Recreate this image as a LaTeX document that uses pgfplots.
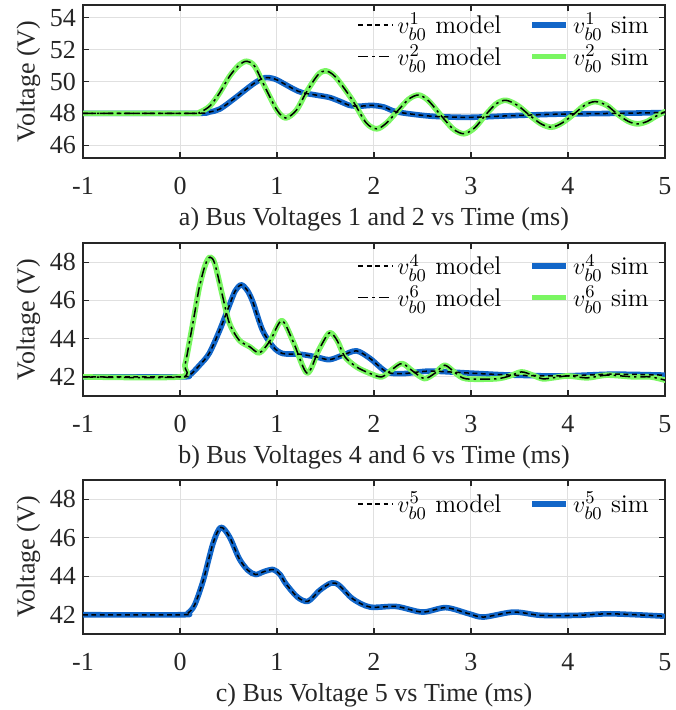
\documentclass[border=0pt]{standalone}
\usepackage{fontspec}
\usepackage{pgfplots}
\usepackage{pgfplotstable}
\pgfplotsset{compat=1.18}
\newfontfamily\tnr{Liberation Serif}
\newcommand\tf{\tnr\fontsize{13}{14}\selectfont}
\definecolor{simblue}{RGB}{18,102,200}
\definecolor{simgreen}{RGB}{122,246,98}
\definecolor{axgray}{RGB}{38,38,38}

\pgfplotstableread{
t v
-1 48
0.15 48
0.3 48.08
0.41 48.27
0.55 48.88
0.68 49.5
0.78 49.95
0.88 50.24
0.98 50.15
1.09 49.8
1.18 49.5
1.26 49.3
1.4 49.15
1.54 49.0
1.65 48.75
1.75 48.5
1.85 48.45
1.98 48.5
2.1 48.4
2.2 48.15
2.33 48.0
2.6 47.82
2.97 47.75
3.4 47.85
3.9 47.95
4.5 48.0
5 48.05
}\vone

\pgfplotstableread{
t v
-1 48
0.1 48
0.2 48.06
0.31 48.47
0.41 49.3
0.51 50.32
0.61 51.04
0.69 51.27
0.77 50.95
0.88 49.6
1.0 48.2
1.09 47.71
1.2 48.2
1.3 49.3
1.42 50.4
1.50 50.67
1.6 50.3
1.77 48.9
1.92 47.4
2.03 47.03
2.13 47.4
2.25 48.2
2.36 48.9
2.46 49.15
2.56 48.8
2.7 47.8
2.82 47.0
2.93 46.72
3.04 47.1
3.15 47.9
3.26 48.6
3.36 48.82
3.48 48.5
3.6 47.9
3.72 47.35
3.83 47.13
3.94 47.4
4.06 47.95
4.17 48.5
4.28 48.74
4.4 48.5
4.5 48.0
4.62 47.5
4.72 47.34
4.82 47.5
4.9 47.8
5 48.1
}\vtwo

\pgfplotstableread{
t v
-1 42
0.0 42
0.1 42.1
0.2 42.6
0.3 43.22
0.41 44.45
0.51 45.76
0.57 46.5
0.63 46.81
0.69 46.55
0.75 45.93
0.85 44.45
0.96 43.57
1.06 43.22
1.23 43.19
1.4 43.05
1.54 42.9
1.68 43.14
1.82 43.36
1.96 42.96
2.13 42.26
2.3 42.17
2.57 42.3
2.98 42.2
3.43 42.09
3.94 42.05
4.46 42.14
5 42.09
}\vfour

\pgfplotstableread{
t v
-1 42
0.0 42
0.05 42.6
0.1 43.9
0.15 45.3
0.2 46.7
0.26 47.85
0.31 48.26
0.36 47.9
0.44 46.2
0.51 44.8
0.61 43.92
0.72 43.57
0.82 43.26
0.93 43.9
1.05 44.94
1.17 43.8
1.31 42.2
1.43 43.4
1.54 44.3
1.62 43.9
1.7 43.05
1.82 42.52
1.95 42.2
2.08 42.0
2.19 42.4
2.29 42.7
2.4 42.3
2.52 41.91
2.63 42.2
2.73 42.61
2.84 42.2
2.95 41.9
3.26 41.9
3.4 42.05
3.52 42.26
3.63 42.1
3.74 41.9
3.87 41.97
4.0 42.05
4.2 41.95
4.4 42.09
4.68 42.0
4.85 42.0
5 41.83
}\vsix

\pgfplotstableread{
t v
-1 42
0.02 42
0.08 42.08
0.15 42.5
0.24 43.79
0.34 45.7
0.42 46.54
0.51 46.05
0.61 44.92
0.7 44.31
0.78 44.09
0.87 44.25
0.96 44.35
1.03 44.1
1.09 43.62
1.21 42.92
1.32 42.7
1.44 43.27
1.56 43.65
1.64 43.53
1.78 42.83
1.96 42.4
2.23 42.43
2.5 42.14
2.74 42.37
2.98 42.05
3.13 41.88
3.44 42.14
3.72 41.97
4.1 41.97
4.44 42.05
4.98 41.93
}\vfive

\pgfplotsset{
  every axis/.append style={
    scale only axis, width=291pt,
    xmin=-1, xmax=5,
    xtick={-1,0,1,2,3,4,5},
    xticklabels={-1,0,1,2,3,4,5},
    grid=major,
    major grid style={draw=black!12, line width=0.5pt},
    axis line style={draw=axgray, line width=0.7pt},
    tick style={draw=axgray, line width=0.6pt},
    major tick length=3pt,
    tick align=inside,
    ticklabel style={font=\tf, text=axgray},
    xticklabel style={yshift=-6pt},
    label style={font=\tf, text=axgray},
    ylabel={Voltage (V)},
    ylabel style={yshift=-2pt},
    xlabel style={yshift=0.5pt},
    legend columns=2,
    legend style={draw=none, fill=none, anchor=north east,
      font=\fontsize{12.8}{15}\selectfont, /tikz/every even column/.append style={column sep=12pt},
      row sep=0pt},
    legend cell align=left,
  },
  simline/.style={line width=2.8pt, smooth, tension=0.5, line join=round, line cap=round},
  modA/.style={black, line width=0.75pt, dash pattern=on 2.4pt off 1.8pt, smooth, tension=0.5},
  modB/.style={black, line width=0.75pt, dash pattern=on 5pt off 2pt on 1.2pt off 2pt, smooth, tension=0.5},
}

\begin{document}
\begin{tikzpicture}
\useasboundingbox (-41.5pt,2.5pt) rectangle (296pt,-352.5pt);

\begin{axis}[at={(0pt,0pt)}, anchor=north west, height=76.5pt,
  legend style={at={(0.99,1.0)}},
  ymin=45.2, ymax=54.8, ytick={46,48,50,52,54}, yticklabels={46,48,50,52,54},
  xlabel={a) Bus Voltages 1 and 2 vs Time (ms)}]
\addplot[simline, simblue, forget plot] table[x=t,y=v] {\vone};
\addplot[simline, simgreen, forget plot] table[x=t,y=v] {\vtwo};
\addplot[modA, forget plot] table[x=t,y=v] {\vone};
\addplot[modB, forget plot] table[x=t,y=v] {\vtwo};
\addlegendimage{black, line width=0.75pt, dash pattern=on 2.4pt off 1.8pt}
\addlegendentry{$v_{b0}^{1}$ model}
\addlegendimage{simblue, line width=2.8pt}
\addlegendentry{$v_{b0}^{1}$ sim}
\addlegendimage{black, line width=0.75pt, dash pattern=on 5pt off 2pt on 1.2pt off 2pt}
\addlegendentry{$v_{b0}^{2}$ model}
\addlegendimage{simgreen, line width=2.8pt}
\addlegendentry{$v_{b0}^{2}$ sim}
\end{axis}

\begin{axis}[at={(0pt,-119pt)}, anchor=north west, height=76.5pt,
  legend style={at={(0.99,0.98)}},
  ymin=41, ymax=49, ytick={42,44,46,48}, yticklabels={42,44,46,48},
  xlabel={b) Bus Voltages 4 and 6 vs Time (ms)}]
\addplot[simline, simblue, forget plot] table[x=t,y=v] {\vfour};
\addplot[simline, simgreen, forget plot] table[x=t,y=v] {\vsix};
\addplot[modA, forget plot] table[x=t,y=v] {\vfour};
\addplot[modB, forget plot] table[x=t,y=v] {\vsix};
\addlegendimage{black, line width=0.75pt, dash pattern=on 2.4pt off 1.8pt}
\addlegendentry{$v_{b0}^{4}$ model}
\addlegendimage{simblue, line width=2.8pt}
\addlegendentry{$v_{b0}^{4}$ sim}
\addlegendimage{black, line width=0.75pt, dash pattern=on 5pt off 2pt on 1.2pt off 2pt}
\addlegendentry{$v_{b0}^{6}$ model}
\addlegendimage{simgreen, line width=2.8pt}
\addlegendentry{$v_{b0}^{6}$ sim}
\end{axis}

\begin{axis}[at={(0pt,-237.5pt)}, anchor=north west, height=77pt,
  legend style={at={(0.99,0.975)}},
  ymin=41, ymax=49, ytick={42,44,46,48}, yticklabels={42,44,46,48},
  xlabel={c) Bus Voltage 5 vs Time (ms)}]
\addplot[simline, simblue, forget plot] table[x=t,y=v] {\vfive};
\addplot[modA, forget plot] table[x=t,y=v] {\vfive};
\addlegendimage{black, line width=0.75pt, dash pattern=on 2.4pt off 1.8pt}
\addlegendentry{$v_{b0}^{5}$ model}
\addlegendimage{simblue, line width=2.8pt}
\addlegendentry{$v_{b0}^{5}$ sim}
\end{axis}
\end{tikzpicture}
\end{document}
